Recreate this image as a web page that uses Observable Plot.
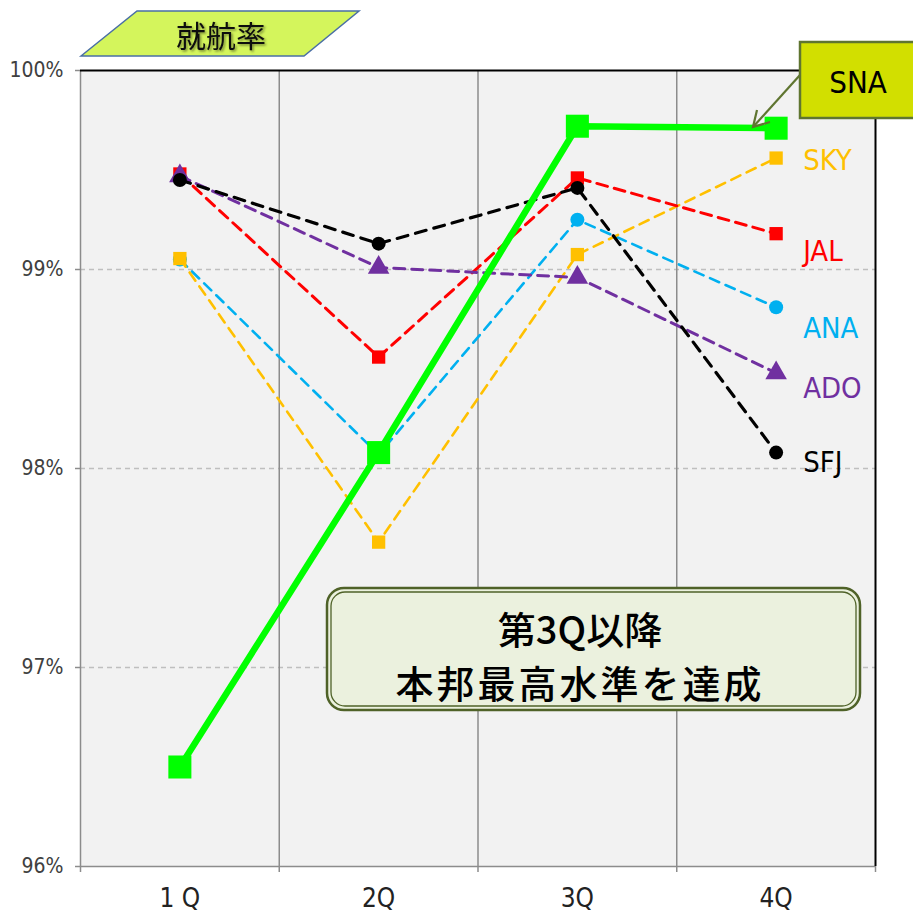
<!DOCTYPE html>
<html><head><meta charset="utf-8">
<script src="https://cdn.jsdelivr.net/npm/d3@7"></script>
<script src="https://cdn.jsdelivr.net/npm/@observablehq/plot@0.6"></script>
<style>body{margin:0;background:#fff}</style>
</head><body><div id="chart"></div>
<script>
const quarters = ["1 Q", "2Q", "3Q", "4Q"];
const yTicks = [96, 97, 98, 99, 100];
const seriesNames = ["ANA", "SKY", "JAL", "ADO", "SFJ", "SNA"];
const ana = [99.05, 98.07, 99.25, 98.81];
const sky = [99.055, 97.63, 99.075, 99.56];
const jal = [99.48, 98.56, 99.46, 99.18];
const ado = [99.47, 99.01, 98.96, 98.48];
const sfj = [99.45, 99.13, 99.41, 98.08];
const sna = [96.50, 98.08, 99.72, 99.71];
const values = {ANA: ana, SKY: sky, JAL: jal, ADO: ado, SFJ: sfj, SNA: sna};

const style = {
  ANA: {color: "#00b0f0", symbol: "circle", r: 7, w: 2.6, dash: "10,7"},
  SKY: {color: "#ffc000", symbol: "square", r: 7.5, w: 2.6, dash: "10,7"},
  JAL: {color: "#ff0000", symbol: "square", r: 7.5, w: 3, dash: "11,7"},
  ADO: {color: "#7030a0", symbol: "triangle", r: 8, w: 3, dash: "11,7"},
  SFJ: {color: "#000000", symbol: "circle", r: 7, w: 3.2, dash: "11,8"},
  SNA: {color: "#00ff00", symbol: "square", r: 13, w: 6.5, dash: null}
};
const labelDy = {ANA: 21, SKY: 3, JAL: 18, ADO: 16, SFJ: 10};

const rows = seriesNames.flatMap(s => values[s].map((v, i) => ({series: s, q: i + 1, v})));
const narrow = "'Liberation Sans Narrow','DejaVu Sans Condensed',Arial,sans-serif";

const marks = [
  Plot.frame({fill: "#f2f2f2", stroke: null}),
  Plot.ruleY([97, 98, 99], {stroke: "#bfbfbf", strokeWidth: 1.5, strokeDasharray: "5,4"}),
  Plot.ruleX([1.5, 2.5, 3.5], {stroke: "#8c8c8c", strokeWidth: 1.5}),
  Plot.ruleX([0.5], {stroke: "#8c8c8c", strokeWidth: 1.5}),
  Plot.ruleY([96], {stroke: "#8c8c8c", strokeWidth: 1.5}),
  Plot.ruleY([100], {stroke: "#000", strokeWidth: 2}),
  Plot.ruleX([4.5], {stroke: "#000", strokeWidth: 2}),
  Plot.axisY({ticks: yTicks, tickFormat: d => d + "%", tickSize: 5, tickPadding: 12, stroke: "#8c8c8c", strokeWidth: 1.5,
    fill: "#404040", fontSize: 21, fontFamily: narrow, label: null}),
  Plot.axisX({ticks: [0.5, 1.5, 2.5, 3.5, 4.5], tickFormat: () => "", tickSize: 6, stroke: "#8c8c8c", strokeWidth: 1.5, label: null}),
  Plot.axisX({ticks: [1, 2, 3, 4], tickFormat: d => quarters[d - 1], tickSize: 0, tickPadding: 22,
    fill: "#222", fontSize: 26, fontFamily: narrow, label: null})
];
for (const s of seriesNames) {
  const st = style[s];
  const data = rows.filter(d => d.series === s);
  marks.push(Plot.line(data, {x: "q", y: "v", stroke: st.color, strokeWidth: st.w, strokeDasharray: st.dash}));
  marks.push(Plot.dot(data, {x: "q", y: "v", symbol: st.symbol, r: st.r, fill: st.color, stroke: null}));
  if (s !== "SNA") {
    marks.push(Plot.text(data.slice(-1), {x: "q", y: "v", text: () => s, dx: 27, dy: labelDy[s], textAnchor: "start",
      fill: st.color, fontSize: 29, fontFamily: narrow}));
  }
}

const svg = Plot.plot({
  width: 913, height: 915,
  marginLeft: 80, marginRight: 38, marginTop: 70, marginBottom: 49,
  x: {type: "linear", domain: [0.5, 4.5], axis: null, label: null},
  y: {domain: [96, 100], axis: null, label: null},
  style: {background: "#fff", overflow: "hidden"},
  marks
});
document.getElementById("chart").appendChild(svg);

const g = d3.select(svg).append("g");
const defs = d3.select(svg).append("defs");
const f = defs.append("filter").attr("id", "sh").attr("x", "-20%").attr("y", "-20%").attr("width", "140%").attr("height", "140%");
f.append("feDropShadow").attr("dx", 1.5).attr("dy", 1.5).attr("stdDeviation", 1.2).attr("flood-color", "#000").attr("flood-opacity", 0.45);
// title parallelogram
g.append("polygon").attr("points", "81,56 137,11 359,11 304,56")
  .attr("fill", "#d4f55c").attr("stroke", "#4a6fa5").attr("stroke-width", 1.5);
g.append("text").attr("x", 221).attr("y", 34).attr("text-anchor", "middle").attr("dominant-baseline", "central")
  .attr("font-family", "'Noto Sans CJK JP',sans-serif").attr("font-size", 30).attr("fill", "#111")
  .attr("filter", "url(#sh)").text("就航率");

// SNA callout
g.append("rect").attr("x", 800).attr("y", 42).attr("width", 140).attr("height", 76)
  .attr("fill", "#d2df00").attr("stroke", "#5f7530").attr("stroke-width", 2.5);
g.append("text").attr("x", 858).attr("y", 82).attr("text-anchor", "middle").attr("dominant-baseline", "central")
  .attr("font-family", narrow).attr("font-size", 31).attr("fill", "#000").text("SNA");
g.append("line").attr("x1", 800).attr("y1", 75).attr("x2", 753).attr("y2", 127)
  .attr("stroke", "#5f7530").attr("stroke-width", 2.2);
g.append("polyline").attr("points", "757,110 753,127 770,122")
  .attr("fill", "none").attr("stroke", "#5f7530").attr("stroke-width", 2.2);

// annotation box
g.append("rect").attr("x", 327).attr("y", 588).attr("width", 533).attr("height", 122).attr("rx", 17)
  .attr("fill", "#ebf1de").attr("stroke", "#4f6228").attr("stroke-width", 2.5);
g.append("rect").attr("x", 331).attr("y", 592).attr("width", 525).attr("height", 114).attr("rx", 14)
  .attr("fill", "none").attr("stroke", "#4f6228").attr("stroke-width", 1.3);
g.append("text").attr("x", 580).attr("y", 627).attr("text-anchor", "middle").attr("dominant-baseline", "central")
  .attr("font-family", "'Noto Sans CJK JP',sans-serif").attr("font-size", 38).attr("font-weight", 500).attr("fill", "#000").text("第3Q以降");
g.append("text").attr("x", 580).attr("y", 681).attr("text-anchor", "middle").attr("dominant-baseline", "central")
  .attr("font-family", "'Noto Sans CJK JP',sans-serif").attr("font-size", 38).attr("font-weight", 500).attr("letter-spacing", 3).attr("fill", "#000").text("本邦最高水準を達成");
</script></body></html>
